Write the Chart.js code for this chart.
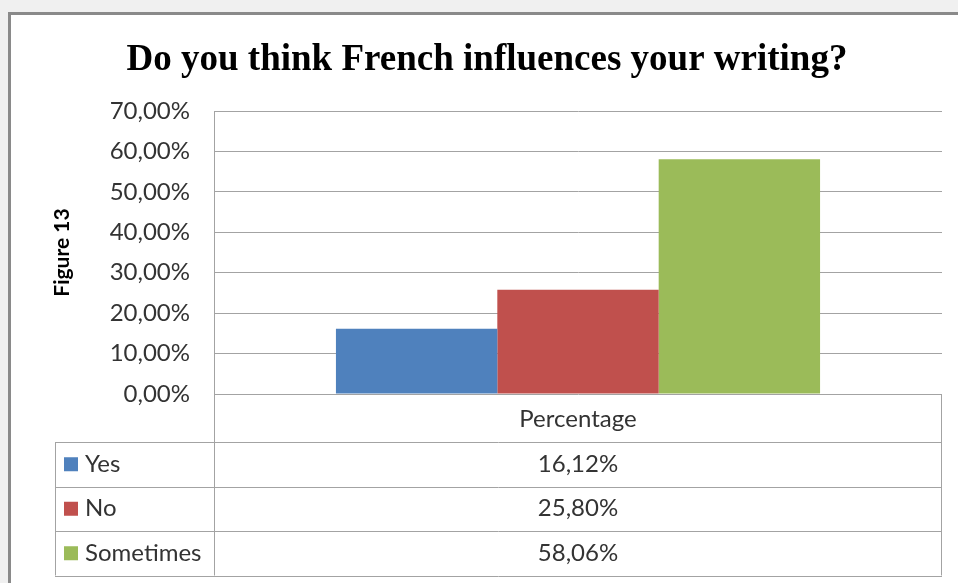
<!DOCTYPE html>
<html lang="en">
<head>
  <meta charset="UTF-8" />
  <title>Do you think French influences your writing?</title>
  <script src="https://cdn.jsdelivr.net/npm/chart.js"></script>
  <style>
    body {
      margin: 0;
      background: #f0f0f0;
      overflow: hidden;
    }

    #frame {
      position: absolute;
      left: 8px;
      top: 12px;
      width: 1000px;
      height: 620px;
      border: 3px solid #8a8a8a;
      background: #fff;
    }

    #chartBox {
      position: absolute;
      left: 0;
      top: 0;
      width: 958px;
      height: 583px;
    }
  </style>
</head>
<body>
  <div id="frame"></div>
  <div id="chartBox">
    <canvas id="chart"></canvas>
  </div>

  <script>
    const categories = ['Percentage'];
    const seriesNames = ['Yes', 'No', 'Sometimes'];
    const seriesValues = [16.12, 25.80, 58.06];
    const yTicks = [0, 10, 20, 30, 40, 50, 60, 70];

    const seriesColors = ['#4f81bd', '#c0504d', '#9bbb59'];
    const lineColor = '#a3a3a3';
    const textColor = '#333';

    // 16.12 -> "16,12%"
    const fmt = v => v.toFixed(2).replace('.', ',') + '%';

    // data table under the plot: legend keys in the first column, values in the second
    const dataTable = {
      id: 'dataTable',
      afterDraw(chart) {
        const { ctx, chartArea: a } = chart;
        const left = 55;
        const top = a.bottom + 48;
        const rowH = 44.5;
        const bottom = top + rowH * seriesNames.length;

        ctx.save();
        ctx.strokeStyle = lineColor;
        ctx.lineWidth = 1;
        ctx.beginPath();
        ctx.moveTo(a.left + 0.5, a.bottom);
        ctx.lineTo(a.left + 0.5, bottom);
        ctx.moveTo(a.right - 0.5, a.bottom);
        ctx.lineTo(a.right - 0.5, bottom);
        ctx.moveTo(left + 0.5, top);
        ctx.lineTo(left + 0.5, bottom);
        for (let i = 0; i <= seriesNames.length; i++) {
          const y = Math.round(top + i * rowH) + 0.5;
          ctx.moveTo(left, y);
          ctx.lineTo(a.right, y);
        }
        ctx.stroke();

        ctx.font = '24px Lato';
        ctx.textBaseline = 'middle';
        seriesNames.forEach((name, i) => {
          const cy = top + rowH * (i + 0.5);
          ctx.fillStyle = seriesColors[i];
          ctx.fillRect(left + 9, cy - 7, 14, 14);
          ctx.fillStyle = textColor;
          ctx.textAlign = 'left';
          ctx.fillText(name, left + 30, cy);
          ctx.textAlign = 'center';
          ctx.fillText(fmt(seriesValues[i]), (a.left + a.right) / 2, cy);
        });
        ctx.restore();
      }
    };

    new Chart(document.getElementById('chart'), {
      type: 'bar',
      data: {
        labels: categories,
        datasets: seriesNames.map((name, i) => ({
          label: name,
          data: [seriesValues[i]],
          backgroundColor: seriesColors[i],
          borderWidth: 0,
          categoryPercentage: 0.665,
          barPercentage: 1
        }))
      },
      options: {
        responsive: true,
        maintainAspectRatio: false,
        animation: false,
        layout: { padding: { left: 32, right: 16, top: 0, bottom: 0 } },
        plugins: {
          legend: { display: false },
          tooltip: { enabled: false },
          title: {
            display: true,
            text: 'Do you think French influences your writing?',
            color: '#000',
            font: { family: "'Liberation Serif', serif", size: 37, weight: 'bold' },
            padding: { top: 38, bottom: 28.6 }
          }
        },
        scales: {
          x: {
            grid: { display: false },
            border: { display: false },
            ticks: {
              color: textColor,
              font: { family: 'Lato', size: 24 },
              padding: 3
            },
            afterFit(scale) { scale.height = 189; }
          },
          y: {
            min: 0,
            max: 70,
            afterBuildTicks(scale) {
              scale.ticks = yTicks.map(v => ({ value: v }));
            },
            grid: { color: lineColor, drawTicks: false },
            border: { display: true, color: lineColor },
            ticks: {
              color: textColor,
              font: { family: 'Lato', size: 24 },
              padding: 24,
              callback: v => fmt(v)
            },
            title: {
              display: true,
              text: 'Figure 13',
              color: '#000',
              font: { family: 'Lato', size: 21, weight: 'bold' },
              padding: { top: 18, bottom: 0 }
            },
            afterFit(scale) { scale.width = 182; }
          }
        }
      },
      plugins: [dataTable]
    });
  </script>
</body>
</html>
